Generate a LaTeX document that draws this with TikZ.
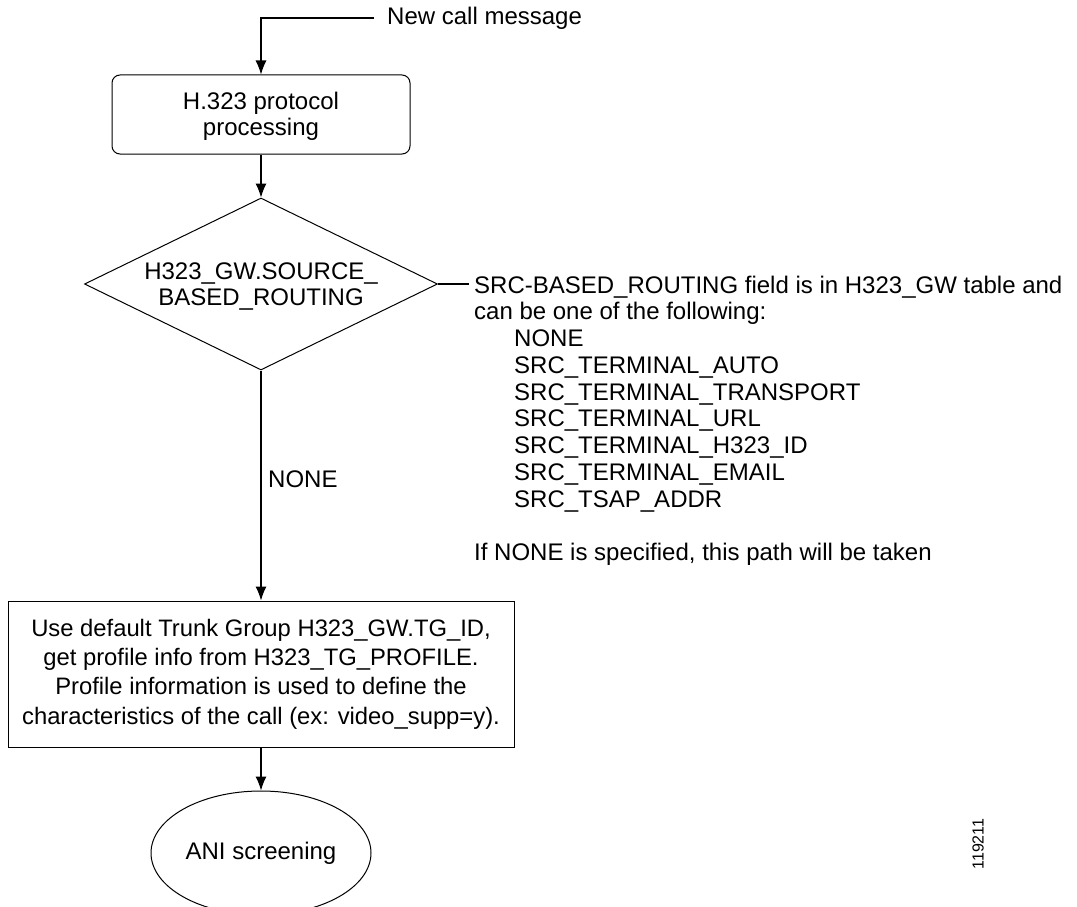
\documentclass[tikz,border=0pt]{standalone}
\usepackage{fontspec}
\setmainfont{Liberation Sans}
\usetikzlibrary{shapes.geometric,arrows.meta}

\tikzset{
  flowarrow/.style={-{Latex[length=14pt,width=11pt]}, line width=1.1pt},
  plainline/.style={line width=1.1pt},
  procbox/.style={draw, line width=1pt, align=center, inner sep=0pt},
}

\begin{document}
\begin{tikzpicture}[x=1pt,y=-1pt,font=\fontsize{24}{26.5}\selectfont]
\useasboundingbox (0,0) rectangle (1077,907);

% Main column
\node[anchor=west, inner sep=0pt] (newcall) at (387,18) {New call message};
\node[procbox, rounded corners=8pt, minimum width=298, minimum height=79] (proc) at (261,114.5) {\rule{0pt}{21pt}H.323 protocol\\processing};
\node[procbox, diamond, aspect=2.05, minimum width=353, minimum height=172] (dec) at (261,284) {\rule{0pt}{22pt}H323\_GW.SOURCE\_\\BASED\_ROUTING};
\node[procbox, minimum width=506, minimum height=146, font=\fontsize{23.8}{29.4}\selectfont] (trunk) at (261,674)
  {Use default Trunk Group H323\_GW.TG\_ID,\\get profile info from H323\_TG\_PROFILE.\\Profile information is used to define the\\characteristics of the call (ex: video\_supp=y).};
\node[procbox, ellipse, minimum width=220, minimum height=124] (ani) at (261,853) {ANI screening};

% Note on the right
\node[anchor=north west, inner sep=0pt, align=left, font=\fontsize{24}{26.75}\selectfont] (srcnote) at (474,275.5)
  {SRC-BASED\_ROUTING field is in H323\_GW table and\\
   can be one of the following:\\
   \hspace*{40pt}NONE\\
   \hspace*{40pt}SRC\_TERMINAL\_AUTO\\
   \hspace*{40pt}SRC\_TERMINAL\_TRANSPORT\\
   \hspace*{40pt}SRC\_TERMINAL\_URL\\
   \hspace*{40pt}SRC\_TERMINAL\_H323\_ID\\
   \hspace*{40pt}SRC\_TERMINAL\_EMAIL\\
   \hspace*{40pt}SRC\_TSAP\_ADDR\\[26.75pt]
   If NONE is specified, this path will be taken};

% Labels
\node[anchor=west, inner sep=0pt] (nonelbl) at (268,479) {NONE};
\node[rotate=90, inner sep=0pt, font=\fontsize{16}{18}\selectfont] (figid) at (978,844) {119211};

% Connectors
\draw[flowarrow] ([xshift=-13pt]newcall.west) -| (proc.north);
\draw[flowarrow] (proc.south) -- (dec.north);
\draw[plainline] (dec.east) -- ([xshift=-5pt]dec.east -| srcnote.west);
\draw[flowarrow] (dec.south) -- (trunk.north);
\draw[flowarrow] (trunk.south) -- (ani.north);

\end{tikzpicture}
\end{document}
